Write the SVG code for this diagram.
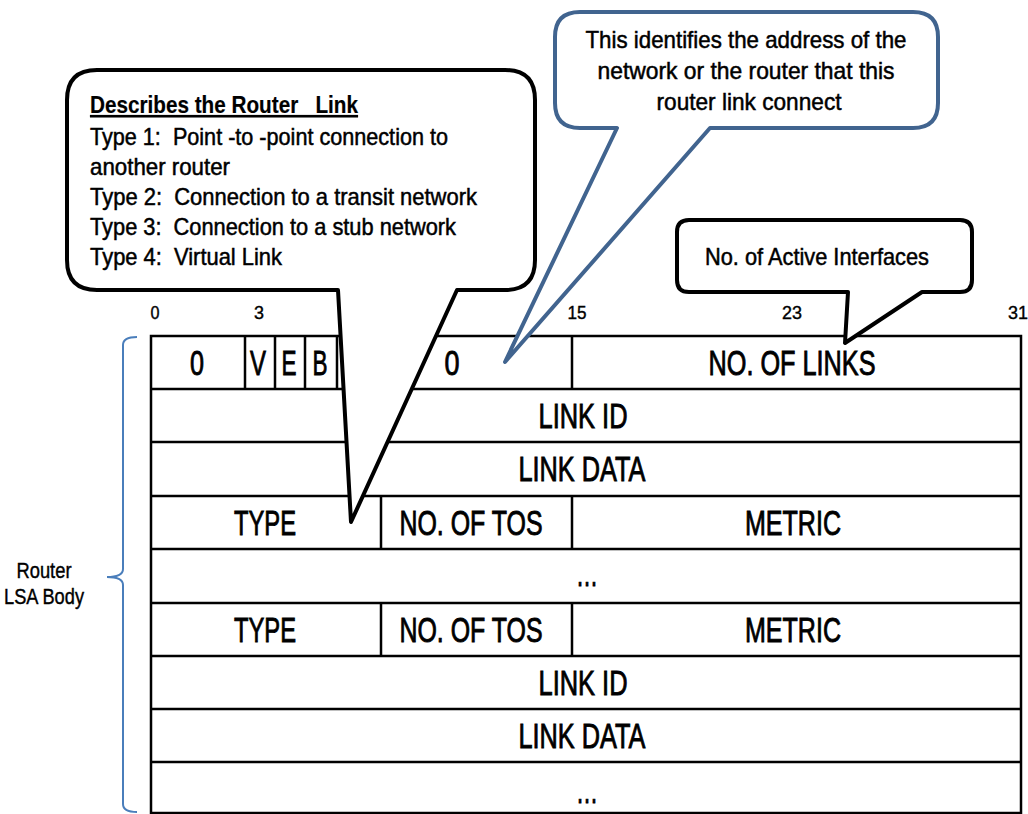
<svg xmlns="http://www.w3.org/2000/svg" width="1028" height="814" viewBox="0 0 1028 814">
  <style>
    text { font-family: "Liberation Sans", Arial, sans-serif; fill: #000; stroke: #000; white-space: pre; }
    .cell { font-size: 35px; text-anchor: middle; stroke-width: 0.9; }
    .bit { font-size: 19px; text-anchor: middle; stroke-width: 0.4; }
    .note { font-size: 24px; stroke-width: 0.5; }
    .notec { font-size: 24px; text-anchor: middle; stroke-width: 0.5; }
    .side { font-size: 22px; text-anchor: middle; stroke-width: 0.4; }
    .grid { stroke: #000; stroke-width: 2.5; fill: none; }
    .bubble { fill: #fff; stroke: #000; stroke-width: 4; stroke-linejoin: round; }
    .bubble-blue { fill: #fff; stroke: #41648f; stroke-width: 4; stroke-linejoin: round; }
  </style>
  <rect width="1028" height="814" fill="#fff"/>

  <!-- bit position ruler -->
  <g id="ruler">
    <text class="bit" x="155" y="319" textLength="9" lengthAdjust="spacingAndGlyphs">0</text>
    <text class="bit" x="259" y="319" textLength="10" lengthAdjust="spacingAndGlyphs">3</text>
    <text class="bit" x="577" y="319" textLength="19" lengthAdjust="spacingAndGlyphs">15</text>
    <text class="bit" x="792" y="319" textLength="20" lengthAdjust="spacingAndGlyphs">23</text>
    <text class="bit" x="1018" y="319" textLength="20" lengthAdjust="spacingAndGlyphs">31</text>
  </g>

  <!-- router LSA body table -->
  <g id="lsa-table">
    <rect class="grid" x="151" y="336" width="870" height="477"/>
    <path class="grid" d="M151,389 H1021 M151,442 H1021 M151,496 H1021 M151,549 H1021 M151,603 H1021 M151,656 H1021 M151,709 H1021 M151,762 H1021"/>
    <path class="grid" d="M245,336 V389 M275,336 V389 M305,336 V389 M337,336 V389 M572,336 V389 M381,496 V549 M572,496 V549 M381,603 V656 M572,603 V656"/>
    <text class="cell" x="197" y="375" textLength="14" lengthAdjust="spacingAndGlyphs">0</text>
    <text class="cell" x="258" y="375" textLength="16" lengthAdjust="spacingAndGlyphs">V</text>
    <text class="cell" x="289" y="375" textLength="15" lengthAdjust="spacingAndGlyphs">E</text>
    <text class="cell" x="320" y="375" textLength="15" lengthAdjust="spacingAndGlyphs">B</text>
    <text class="cell" x="452" y="375" textLength="15" lengthAdjust="spacingAndGlyphs">0</text>
    <text class="cell" x="792" y="375" textLength="167" lengthAdjust="spacingAndGlyphs">NO. OF LINKS</text>
    <text class="cell" x="583" y="428" textLength="89" lengthAdjust="spacingAndGlyphs">LINK ID</text>
    <text class="cell" x="582" y="481" textLength="127" lengthAdjust="spacingAndGlyphs">LINK DATA</text>
    <text class="cell" x="265" y="535" textLength="62" lengthAdjust="spacingAndGlyphs">TYPE</text>
    <text class="cell" x="471" y="535" textLength="143" lengthAdjust="spacingAndGlyphs">NO. OF TOS</text>
    <text class="cell" x="793" y="535" textLength="96" lengthAdjust="spacingAndGlyphs">METRIC</text>
    <text class="cell" x="587" y="586" textLength="22" lengthAdjust="spacingAndGlyphs">…</text>
    <text class="cell" x="265" y="642" textLength="62" lengthAdjust="spacingAndGlyphs">TYPE</text>
    <text class="cell" x="471" y="642" textLength="143" lengthAdjust="spacingAndGlyphs">NO. OF TOS</text>
    <text class="cell" x="793" y="642" textLength="96" lengthAdjust="spacingAndGlyphs">METRIC</text>
    <text class="cell" x="583" y="695" textLength="89" lengthAdjust="spacingAndGlyphs">LINK ID</text>
    <text class="cell" x="582" y="748" textLength="127" lengthAdjust="spacingAndGlyphs">LINK DATA</text>
    <text class="cell" x="587" y="803" textLength="22" lengthAdjust="spacingAndGlyphs">…</text>
  </g>

  <!-- brace and side label -->
  <g id="body-brace">
    <path d="M137,337 Q123,337 123,345 V569 Q123,577 107,577 Q123,577 123,585 V804 Q123,812 137,812" fill="none" stroke="#4a7ebb" stroke-width="2"/>
    <text class="side" x="44" y="578" textLength="55" lengthAdjust="spacingAndGlyphs">Router</text>
    <text class="side" x="44" y="604" textLength="80" lengthAdjust="spacingAndGlyphs">LSA Body</text>
  </g>

  <!-- callout: router link type -->
  <g id="callout-link-type">
    <path class="bubble" d="M97,70 H505 Q535,70 535,100 V260 Q535,290 505,290 H457 L351,522 L338,290 H97 Q67,290 67,260 V100 Q67,70 97,70 Z"/>
    <text class="note" x="90" y="113" textLength="268" lengthAdjust="spacingAndGlyphs" font-weight="bold" text-decoration="underline" style="stroke-width:0.2">Describes the Router   Link</text>
    <text class="note" x="90" y="145" textLength="358" lengthAdjust="spacingAndGlyphs">Type 1:  Point -to -point connection to</text>
    <text class="note" x="90" y="175" textLength="140" lengthAdjust="spacingAndGlyphs">another router</text>
    <text class="note" x="90" y="205" textLength="387" lengthAdjust="spacingAndGlyphs">Type 2:  Connection to a transit network</text>
    <text class="note" x="90" y="235" textLength="366" lengthAdjust="spacingAndGlyphs">Type 3:  Connection to a stub network</text>
    <text class="note" x="90" y="265" textLength="192" lengthAdjust="spacingAndGlyphs">Type 4:  Virtual Link</text>
  </g>

  <!-- callout: link id meaning -->
  <g id="callout-link-id">
    <path class="bubble-blue" d="M580,12 H913 Q938,12 938,37 V103 Q938,128 913,128 H710 L505,362 L617,128 H580 Q555,128 555,103 V37 Q555,12 580,12 Z"/>
    <text class="notec" x="746" y="48" textLength="321" lengthAdjust="spacingAndGlyphs">This identifies the address of the</text>
    <text class="notec" x="746" y="79" textLength="297" lengthAdjust="spacingAndGlyphs">network or the router that this</text>
    <text class="notec" x="749" y="110" textLength="185" lengthAdjust="spacingAndGlyphs">router link connect</text>
  </g>

  <!-- callout: number of links -->
  <g id="callout-links">
    <path class="bubble" d="M689,220 H960 Q972,220 972,232 V280 Q972,292 960,292 H922 L845,343 L848,292 H689 Q677,292 677,280 V232 Q677,220 689,220 Z"/>
    <text class="notec" x="817" y="265" textLength="224" lengthAdjust="spacingAndGlyphs">No. of Active Interfaces</text>
  </g>
</svg>
